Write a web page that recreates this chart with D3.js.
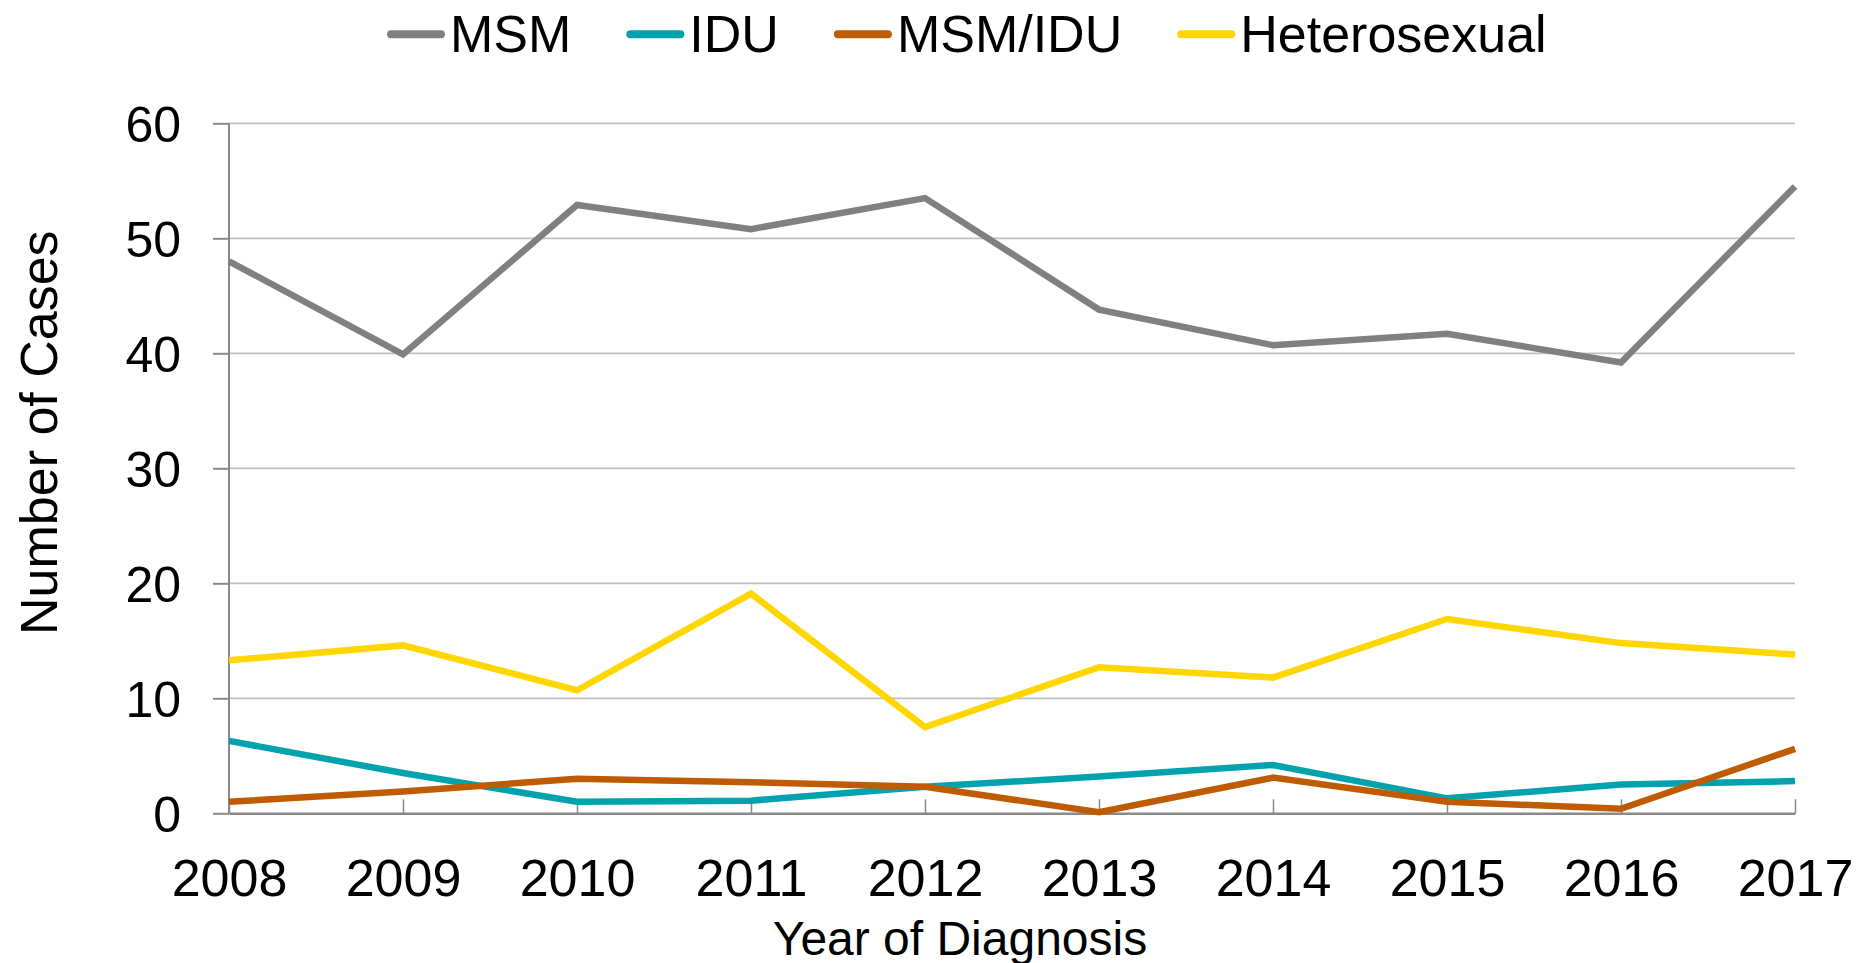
<!DOCTYPE html>
<html>
<head>
<meta charset="utf-8">
<script src="https://cdn.jsdelivr.net/npm/d3@7"></script>
<style>
  html, body { margin: 0; padding: 0; background: #fff; }
  text { font-family: "Liberation Sans", Arial, sans-serif; fill: #000; }
</style>
</head>
<body>
<svg id="chart" width="1859" height="963"></svg>
<script>
const years = [2008, 2009, 2010, 2011, 2012, 2013, 2014, 2015, 2016, 2017];
const msm = [48, 39.9, 52.9, 50.8, 53.5, 43.8, 40.7, 41.7, 39.2, 54.5];
const idu = [6.3, 3.5, 1.0, 1.1, 2.3, 3.2, 4.2, 1.3, 2.5, 2.8];
const msmIdu = [1.0, 1.9, 3.0, 2.7, 2.3, 0.1, 3.1, 1.0, 0.4, 5.6];
const hetero = [13.3, 14.6, 10.7, 19.1, 7.5, 12.7, 11.8, 16.9, 14.8, 13.8];
const yTicks = [0, 10, 20, 30, 40, 50, 60];
const seriesNames = ["MSM", "IDU", "MSM/IDU", "Heterosexual"];
const seriesColors = ["#808080", "#00A3AD", "#BF5B00", "#FFD600"];
const seriesData = [msm, idu, msmIdu, hetero];

const svg = d3.select("#chart");
const plotLeft = 229, plotRight = 1795, plotTop = 123.3, plotBottom = 813.3;

const x = d3.scalePoint().domain(years).range([plotLeft, plotRight]);
const y = d3.scaleLinear().domain([0, 60]).range([plotBottom, plotTop]);

// gridlines
svg.append("g").selectAll("line").data(yTicks.filter(d => d > 0)).join("line")
  .attr("x1", plotLeft).attr("x2", plotRight)
  .attr("y1", d => y(d)).attr("y2", d => y(d))
  .attr("stroke", "#C0C0C0").attr("stroke-width", 1.8);

// y axis
const yAxis = svg.append("g").attr("transform", `translate(${plotLeft},0)`)
  .call(d3.axisLeft(y).tickValues(yTicks).tickSize(16).tickPadding(32));
yAxis.select(".domain").attr("stroke", "#898989").attr("stroke-width", 2).attr("d", `M0,${plotTop}V${plotBottom}`);
yAxis.selectAll(".tick line").attr("stroke", "#898989").attr("stroke-width", 2);
yAxis.selectAll(".tick text").attr("font-size", 50).attr("font-family", "Liberation Sans, Arial, sans-serif").attr("fill", "#000").attr("dy", "0.36em");

// x axis
const xAxis = svg.append("g").attr("transform", `translate(0,${plotBottom})`)
  .call(d3.axisBottom(x).tickSize(-14).tickPadding(0).tickSizeOuter(0));
xAxis.select(".domain").attr("stroke", "#898989").attr("stroke-width", 2.5);
xAxis.selectAll(".tick line").attr("stroke", "#898989").attr("stroke-width", 1.5);
xAxis.selectAll(".tick text").attr("font-size", 52).attr("font-family", "Liberation Sans, Arial, sans-serif")
  .attr("fill", "#000").attr("dy", 0).attr("y", 83);

// lines
const line = d3.line().x((d, i) => x(years[i])).y(d => y(d));
svg.append("g").selectAll("path").data(seriesData).join("path")
  .attr("d", d => line(d))
  .attr("fill", "none")
  .attr("stroke", (d, i) => seriesColors[i])
  .attr("stroke-width", 6.5)
  .attr("stroke-linejoin", "miter");

// axis titles
svg.append("text").attr("transform", "translate(57,432.7) rotate(-90)")
  .attr("text-anchor", "middle").attr("font-size", 52).text("Number of Cases");
svg.append("text").attr("x", 960).attr("y", 955)
  .attr("text-anchor", "middle").attr("font-size", 48).text("Year of Diagnosis");

// legend
const legend = svg.append("g");
let lx = 387;
seriesNames.forEach((name, i) => {
  legend.append("line").attr("x1", lx + 4).attr("x2", lx + 54)
    .attr("y1", 34.3).attr("y2", 34.3)
    .attr("stroke", seriesColors[i]).attr("stroke-width", 8).attr("stroke-linecap", "round");
  const t = legend.append("text").attr("x", lx + 63).attr("y", 51.7)
    .attr("font-size", 52).text(name);
  lx += 63 + t.node().getComputedTextLength() + 55;
});
</script>
</body>
</html>
